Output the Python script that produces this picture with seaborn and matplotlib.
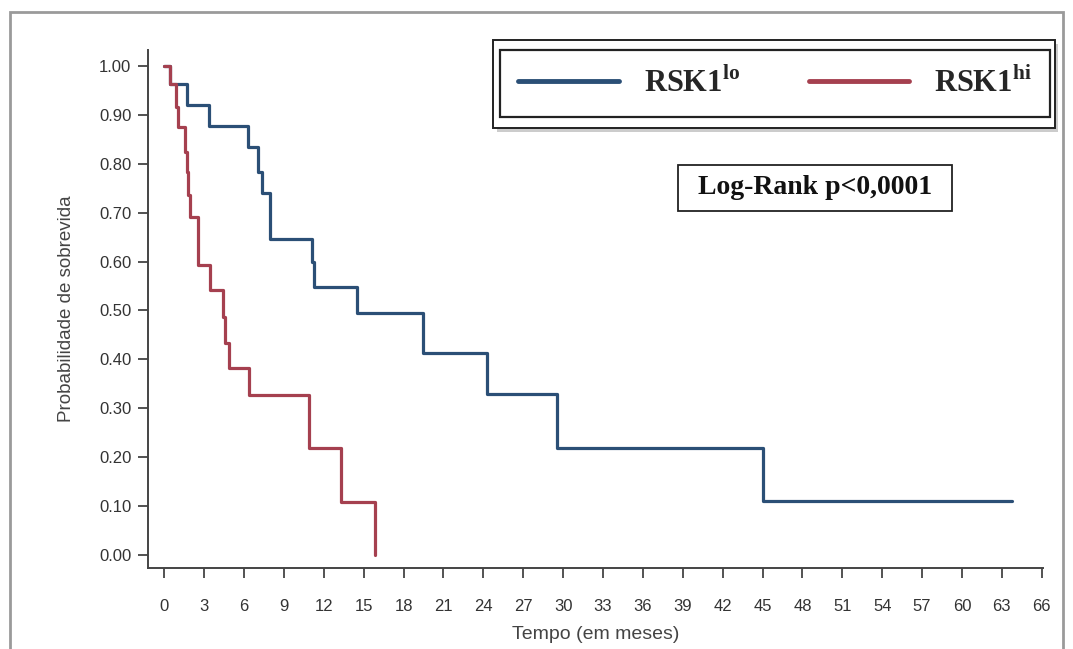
import matplotlib
matplotlib.use("Agg")
import matplotlib.pyplot as plt
import matplotlib.patches as mpatches
import seaborn as sns
import pandas as pd
import numpy as np

# ---- data ----
times_lo = [0, 0.43, 1.68, 3.36, 6.27, 7.07, 7.32, 7.95, 11.08, 11.28, 14.47, 19.45, 24.29, 29.55, 45.0, 63.8]
surv_lo = [1.0, 0.963, 0.92, 0.877, 0.834, 0.784, 0.740, 0.646, 0.60, 0.549, 0.494, 0.412, 0.329, 0.218, 0.110, 0.110]

times_hi = [0, 0.44, 0.86, 1.05, 1.56, 1.73, 1.80, 1.93, 2.51, 3.44, 4.44, 4.56, 4.89, 6.39, 10.88, 13.26, 15.84]
surv_hi = [1.0, 0.963, 0.917, 0.876, 0.825, 0.784, 0.736, 0.692, 0.593, 0.542, 0.487, 0.434, 0.383, 0.327, 0.218, 0.109, 0.0]

groups = ["lo", "hi"]
legend_labels = [r"RSK1$^{\mathbf{lo}}$", r"RSK1$^{\mathbf{hi}}$"]
x_ticks = list(range(0, 67, 3))
y_ticks = [0.0, 0.1, 0.2, 0.3, 0.4, 0.5, 0.6, 0.7, 0.8, 0.9, 1.0]
x_label = "Tempo (em meses)"
y_label = "Probabilidade de sobrevida"
stat_text = "Log-Rank p<0,0001"

colors = {"lo": "#2b4f76", "hi": "#a5404f"}

df = pd.concat([
    pd.DataFrame({"t": times_lo, "s": surv_lo, "g": "lo"}),
    pd.DataFrame({"t": times_hi, "s": surv_hi, "g": "hi"}),
], ignore_index=True)

sns.set_theme(style="white")
plt.rcParams["font.family"] = ["Liberation Sans", "DejaVu Sans"]
plt.rcParams["mathtext.fontset"] = "custom"
plt.rcParams["mathtext.rm"] = "Liberation Serif:bold"
plt.rcParams["mathtext.bf"] = "Liberation Serif:bold"

W, H = 1073, 649
fig = plt.figure(figsize=(W / 100, H / 100), dpi=100)
fig.patch.set_facecolor("white")

def fx(px):
    return px / W

def fy(py):
    return 1 - py / H

ax = fig.add_axes([fx(148), fy(568), fx(1043) - fx(148), fy(50) - fy(568)])

sns.lineplot(data=df, x="t", y="s", hue="g", hue_order=groups, palette=colors,
             estimator=None, sort=False, drawstyle="steps-post", linewidth=2.3,
             legend=False, ax=ax)

ax.set_xlim(-1.23, 66.1)
ax.set_ylim(-0.027, 1.033)
ax.set_xticks(x_ticks)
ax.set_xticklabels([str(v) for v in x_ticks], fontsize=12, color="#333333")
ax.set_yticks(y_ticks)
ax.set_yticklabels([f"{v:.2f}" for v in y_ticks], fontsize=12, color="#333333")
ax.tick_params(axis="both", direction="out", length=7, width=1.3, color="#444444",
               bottom=True, left=True, pad=5)
ax.tick_params(axis="x", pad=15)
sns.despine(ax=ax)
for sp in ["left", "bottom"]:
    ax.spines[sp].set_color("#444444")
    ax.spines[sp].set_linewidth(1.4)

ax.set_xlabel(x_label, fontsize=14, color="#444444", labelpad=9)
ax.set_ylabel(y_label, fontsize=13.5, color="#444444", labelpad=17)

# legend
handles = ax.get_lines()[:2]
leg = fig.legend(handles, legend_labels, loc="center", ncol=2, mode="expand",
                 bbox_to_anchor=(fx(500), fy(120), fx(1050) - fx(500), fy(47) - fy(120)),
                 borderaxespad=0,
                 prop={"family": "Liberation Serif", "weight": "bold", "size": 22},
                 handlelength=3.3, handletextpad=0.8, columnspacing=1.2,
                 borderpad=0.6, frameon=True, fancybox=False, edgecolor="#222222",
                 framealpha=1)
leg.get_frame().set_linewidth(1.6)
for h in leg.legend_handles:
    h.set_linewidth(3.5)

# outer legend box with shadow
shadow = mpatches.Rectangle((fx(497), fy(132)), fx(1058) - fx(497), fy(44) - fy(132),
                            transform=fig.transFigure, facecolor="#aaaaaa", edgecolor="none",
                            alpha=0.6, zorder=0)
outer = mpatches.Rectangle((fx(493), fy(128)), fx(1055) - fx(493), fy(40) - fy(128),
                           transform=fig.transFigure, facecolor="white", edgecolor="#222222",
                           linewidth=1.4, zorder=0.5)
fig.patches.extend([shadow, outer])

# statistic box
stat_box = mpatches.Rectangle((fx(678), fy(211)), fx(952) - fx(678), fy(165) - fy(211),
                              transform=fig.transFigure, facecolor="white", edgecolor="#222222",
                              linewidth=1.3, zorder=0.5)
fig.patches.append(stat_box)
fig.text(fx(815), fy(188), stat_text, ha="center", va="center",
         family="Liberation Serif", weight="bold", size=20, color="#111111")

# outer frame of the picture
frame = mpatches.Rectangle((fx(10), -0.01), fx(1063) - fx(10), fy(12) + 0.01,
                           transform=fig.transFigure, facecolor="none", edgecolor="#9a9a9a",
                           linewidth=2.0, zorder=0)
fig.patches.append(frame)

fig.savefig("out.png", dpi=100)
